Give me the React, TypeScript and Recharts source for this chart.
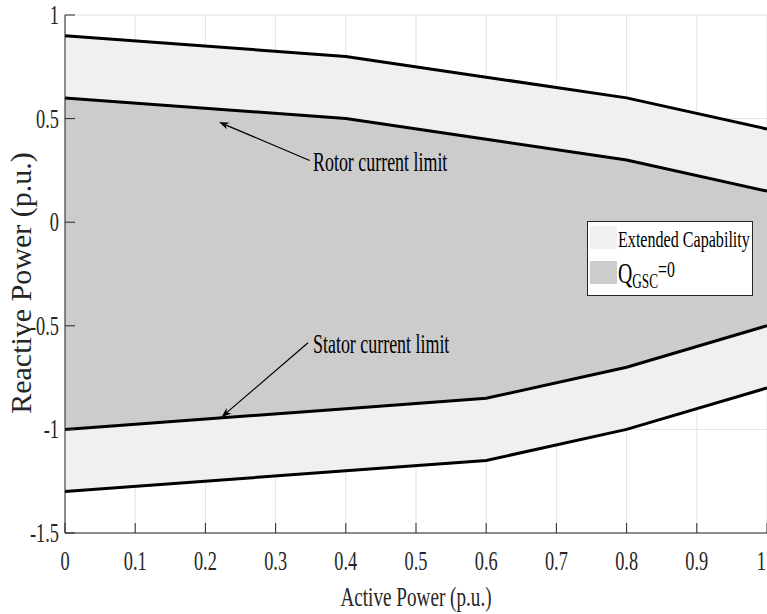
import {
  Area,
  ComposedChart,
  CartesianGrid,
  Label,
  Legend,
  Line,
  ReferenceDot,
  ReferenceLine,
  XAxis,
  YAxis,
} from "recharts";

// active power points (p.u.)
const activePower = [0, 0.4, 0.6, 0.8, 1];
// boundaries of the extended capability region
const outerUpper = [0.9, 0.8, 0.7, 0.6, 0.45];
const outerLower = [-1.3, -1.2, -1.15, -1.0, -0.8];
// boundaries of the Q_GSC=0 region
const innerUpper = [0.6, 0.5, 0.4, 0.3, 0.15];
const innerLower = [-1.0, -0.9, -0.85, -0.7, -0.5];

const xTicks = [0, 0.1, 0.2, 0.3, 0.4, 0.5, 0.6, 0.7, 0.8, 0.9, 1];
const yTicks = [-1.5, -1, -0.5, 0, 0.5, 1];

// annotations in data coordinates
const rotorArrow = { from: { x: 0.3486, y: 0.298 }, to: { x: 0.2194, y: 0.483 } };
const rotorText = { x: 0.3533, y: 0.246, text: "Rotor current limit" };
const statorArrow = { from: { x: 0.3462, y: -0.582 }, to: { x: 0.2228, y: -0.941 } };
const statorText = { x: 0.3533, y: -0.63, text: "Stator current limit" };

const data = activePower.map((x, i) => ({
  x,
  outer: [outerLower[i], outerUpper[i]],
  inner: [innerLower[i], innerUpper[i]],
  outerUpper: outerUpper[i],
  outerLower: outerLower[i],
  innerUpper: innerUpper[i],
  innerLower: innerLower[i],
}));

const FONT = "'Liberation Serif', 'Times New Roman', serif";
const AXIS = "#262626";
const SX = 0.68;
const TICK_LEN = 10;

function BottomTick(props: any) {
  const { x, y, payload, index } = props;
  // the last label sits at the window edge, keep it inside
  const last = index === xTicks.length - 1;
  return (
    <g>
      <line x1={x} y1={y} x2={x} y2={y - TICK_LEN} stroke={AXIS} />
      <text
        transform={`translate(${last ? x - 1 : x},${y + 37}) scale(${SX},1)`}
        textAnchor={last ? "end" : "middle"}
        fontFamily={FONT}
        fontSize={27}
        fill={AXIS}
      >
        {String(payload.value)}
      </text>
    </g>
  );
}

function TopTick(props: any) {
  const { x, y } = props;
  return <line x1={x} y1={y} x2={x} y2={y + TICK_LEN} stroke={AXIS} />;
}

function LeftTick(props: any) {
  const { x, y, payload } = props;
  return (
    <g>
      <line x1={x} y1={y} x2={x + TICK_LEN} y2={y} stroke={AXIS} />
      <text
        transform={`translate(${x - 6},${y + 9}) scale(${SX},1)`}
        textAnchor="end"
        fontFamily={FONT}
        fontSize={27}
        fill={AXIS}
      >
        {String(payload.value)}
      </text>
    </g>
  );
}

function RightTick(props: any) {
  const { x, y } = props;
  return <line x1={x} y1={y} x2={x - 7} y2={y} stroke={AXIS} />;
}

function Arrow(props: any) {
  const { x1, y1, x2, y2 } = props;
  const a = Math.atan2(y2 - y1, x2 - x1);
  const len = 10;
  const w = 3.6;
  const bx = x2 - len * Math.cos(a);
  const by = y2 - len * Math.sin(a);
  const nx = -Math.sin(a) * w;
  const ny = Math.cos(a) * w;
  const mx = x2 - len * 0.7 * Math.cos(a);
  const my = y2 - len * 0.7 * Math.sin(a);
  return (
    <g>
      <line x1={x1} y1={y1} x2={mx} y2={my} stroke="#000" strokeWidth={1.2} />
      <polygon
        points={`${x2},${y2} ${bx + nx},${by + ny} ${mx},${my} ${bx - nx},${by - ny}`}
        fill="#000"
      />
    </g>
  );
}

function noteShape(text: string) {
  return (p: any) => (
    <text
      transform={`translate(${p.cx},${p.cy}) scale(0.64,1)`}
      fontFamily={FONT}
      fontSize={28}
      fill="#000"
    >
      {text}
    </text>
  );
}

function LegendBox() {
  return (
    <svg width={167} height={76} style={{ display: "block" }}>
      <rect x={0.5} y={0.5} width={165} height={74} fill="#fff" stroke={AXIS} />
      <rect x={3} y={5} width={27} height={23} fill="#f0f0f0" />
      <rect x={3} y={40} width={27} height={23} fill="#cccccc" />
      <text
        transform={`translate(31,26) scale(0.7,1)`}
        fontFamily={FONT}
        fontSize={23}
        fill="#000"
      >
        Extended Capability
      </text>
      <text
        transform={`translate(31,62) scale(0.66,1)`}
        fontFamily={FONT}
        fontSize={30}
        fill="#000"
      >
        Q
        <tspan fontSize={20} dy={5}>
          GSC
        </tspan>
        <tspan fontSize={24} dy={-11}>
          =0
        </tspan>
      </text>
    </svg>
  );
}

export default function App() {
  return (
    <div
      style={{
        position: "absolute",
        left: 0,
        top: 0,
        width: 767,
        height: 614,
        overflow: "hidden",
        background: "#fff",
      }}
    >
      <ComposedChart
        width={800}
        height={614}
        data={data}
        margin={{ top: 15, right: 33, bottom: 0, left: 0 }}
      >
        <CartesianGrid stroke="#e3e3e3" strokeWidth={1} />
        <XAxis
          dataKey="x"
          type="number"
          domain={[0, 1]}
          ticks={xTicks}
          interval={0}
          height={81}
          tickSize={0}
          tickMargin={0}
          tickLine={false}
          axisLine={{ stroke: AXIS }}
          tick={(p: any) => <BottomTick {...p} />}
        >
          <Label
            content={(p: any) => {
              const vb = p.viewBox;
              return (
                <text
                  transform={`translate(${vb.x + vb.width / 2},${vb.y + 73}) scale(0.71,1)`}
                  textAnchor="middle"
                  fontFamily={FONT}
                  fontSize={27}
                  fill={AXIS}
                >
                  Active Power (p.u.)
                </text>
              );
            }}
          />
        </XAxis>
        <XAxis
          xAxisId="top"
          dataKey="x"
          type="number"
          orientation="top"
          domain={[0, 1]}
          ticks={xTicks}
          interval={0}
          height={0}
          tickSize={0}
          tickMargin={0}
          tickLine={false}
          axisLine={{ stroke: AXIS }}
          tick={(p: any) => <TopTick {...p} />}
        />
        <YAxis
          type="number"
          domain={[-1.5, 1]}
          ticks={yTicks}
          interval={0}
          width={65}
          tickSize={0}
          tickMargin={0}
          tickLine={false}
          axisLine={{ stroke: AXIS }}
          tick={(p: any) => <LeftTick {...p} />}
        >
          <Label
            content={() => (
              <text
                transform="translate(31,283) rotate(-90)"
                textAnchor="middle"
                fontFamily={FONT}
                fontSize={30}
                fill={AXIS}
              >
                Reactive Power (p.u.)
              </text>
            )}
          />
        </YAxis>
        <YAxis
          yAxisId="right"
          orientation="right"
          type="number"
          domain={[-1.5, 1]}
          ticks={yTicks}
          interval={0}
          width={0}
          tickSize={0}
          tickMargin={0}
          tickLine={false}
          axisLine={{ stroke: AXIS }}
          tick={(p: any) => <RightTick {...p} />}
        />
        <Area
          dataKey="outer"
          type="linear"
          stroke="none"
          fill="#f0f0f0"
          fillOpacity={1}
          isAnimationActive={false}
          legendType="none"
        />
        <Area
          dataKey="inner"
          type="linear"
          stroke="none"
          fill="#cccccc"
          fillOpacity={1}
          isAnimationActive={false}
          legendType="none"
        />
        {["outerUpper", "innerUpper", "innerLower", "outerLower"].map((k) => (
          <Line
            key={k}
            dataKey={k}
            type="linear"
            stroke="#000"
            strokeWidth={3}
            dot={false}
            activeDot={false}
            isAnimationActive={false}
            legendType="none"
          />
        ))}
        <ReferenceLine
          segment={[rotorArrow.from, rotorArrow.to]}
          ifOverflow="visible"
          shape={(p: any) => <Arrow {...p} />}
        />
        <ReferenceLine
          segment={[statorArrow.from, statorArrow.to]}
          ifOverflow="visible"
          shape={(p: any) => <Arrow {...p} />}
        />
        <ReferenceDot
          x={rotorText.x}
          y={rotorText.y}
          r={0}
          ifOverflow="visible"
          shape={noteShape(rotorText.text)}
        />
        <ReferenceDot
          x={statorText.x}
          y={statorText.y}
          r={0}
          ifOverflow="visible"
          shape={noteShape(statorText.text)}
        />
        <Legend
          layout="vertical"
          align="center"
          verticalAlign="middle"
          wrapperStyle={{ left: 587, top: 221, width: 167, height: 76 }}
          content={() => <LegendBox />}
        />
      </ComposedChart>
    </div>
  );
}
